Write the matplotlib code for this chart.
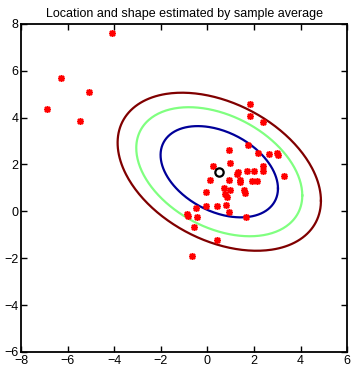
import numpy as np
import matplotlib
matplotlib.use("Agg")
import matplotlib.pyplot as plt

# ── Data ──────────────────────────────────────────────────────────────────────
pts_x = [-4.1, -6.3, -5.1, -6.9, -5.45,
         1.83, 1.83, 2.37,
         0.93, 1.76, 2.18, 2.66, 2.97, 3.04,
         0.25, 0.97,
         1.33, 1.28, 1.69, 2.01, 2.37, 2.40, 3.28,
         0.11, 0.94, 1.40, 1.40, 1.92, 2.15,
         -0.05, 0.72, 0.97, 0.76, 0.84, 1.58, 1.60,
         -0.47, -0.04, 0.42, 0.78, 0.92, 1.67,
         -0.88, -0.84, -0.43, -0.58, 0.40, -0.67]
pts_y = [7.6, 5.7, 5.1, 4.35, 3.85,
         4.6, 4.08, 3.8,
         2.62, 2.83, 2.5, 2.44, 2.5, 2.4,
         1.93, 2.07,
         1.69, 1.58, 1.71, 1.71, 1.92, 1.74, 1.5,
         1.35, 1.33, 1.33, 1.25, 1.3, 1.3,
         0.81, 0.99, 0.89, 0.76, 0.62, 0.91, 0.78,
         0.14, 0.24, 0.24, 0.28, -0.04, -0.25,
         -0.12, -0.18, -0.25, -0.66, -1.23, -1.91]

# location / shape
center = [0.51, 1.69]
shape = [[6.35, -1.8],
         [-1.8, 3.79]]
levels = [1, 2, 3]           # squared Mahalanobis distance
level_colors = ["#000099", "#80ff80", "#800000"]

# ── Plot ──────────────────────────────────────────────────────────────────────
plt.rcParams["font.family"] = ["Liberation Sans", "DejaVu Sans"]
fig = plt.figure(figsize=(3.51, 3.67), dpi=100)
ax = fig.add_axes([0.06, 0.041, 0.929, 0.894])

L = np.linalg.cholesky(np.array(shape))
t = np.linspace(0, 2 * np.pi, 300)
circ = np.vstack([np.cos(t), np.sin(t)])
for lev, col in zip(levels, level_colors):
    e = np.sqrt(lev) * (L @ circ)
    ax.plot(e[0] + center[0], e[1] + center[1], color=col, lw=1.6)

ax.plot(pts_x, pts_y, linestyle="none", marker=(8, 2, 0), ms=5, mew=1.1,
        color="red")
ax.plot(center[0], center[1], "o", ms=6, mfc="none", mec="black", mew=1.6)

ax.set_xlim(-8, 6)
ax.set_ylim(-6, 8)
ax.set_xticks(range(-8, 7, 2))
ax.set_yticks(range(-6, 9, 2))
ax.tick_params(direction="in", top=True, right=True, length=4, width=1,
               labelsize=9, pad=2)
for s in ax.spines.values():
    s.set_linewidth(1.3)
ax.set_title("Location and shape estimated by sample average", fontsize=9,
             pad=5)

fig.savefig("out.png", dpi=100)
